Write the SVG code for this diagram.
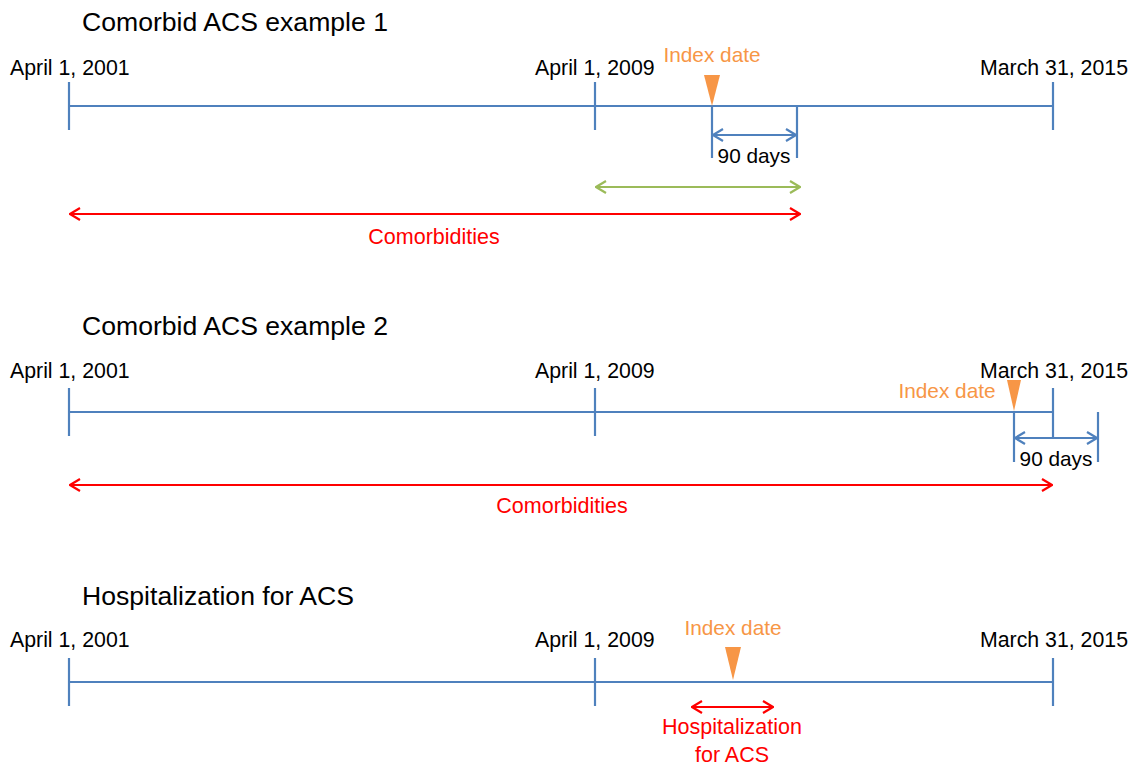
<svg xmlns="http://www.w3.org/2000/svg" width="1139" height="767" viewBox="0 0 1139 767">
<style>
text{font-family:"Liberation Sans",Arial,sans-serif;}
.title{font-size:26.6px;fill:#000;}
.lbl{font-size:21.3px;fill:#000;}
.lblr{font-size:21.3px;fill:#000;text-anchor:end;}
.idx{font-size:20.8px;fill:#F79646;text-anchor:middle;}
.red{font-size:21.5px;fill:#FF0000;text-anchor:middle;}
.blk{font-size:20.8px;fill:#000;text-anchor:middle;}
.tl{stroke:#4F81BD;stroke-width:2.2;fill:none;}
.ab{stroke:#4F81BD;stroke-width:2.2;fill:none;marker-start:url(#mb);marker-end:url(#mb);}
.ar{stroke:#FF0000;stroke-width:2.2;fill:none;marker-start:url(#mr);marker-end:url(#mr);}
.ag{stroke:#9BBB59;stroke-width:2.2;fill:none;marker-start:url(#mg);marker-end:url(#mg);}
.tri{fill:#F79646;}
</style>
<defs>
<marker id="mb" viewBox="0 0 12 14" refX="11" refY="7" markerWidth="12" markerHeight="14" markerUnits="userSpaceOnUse" orient="auto-start-reverse"><path d="M1,1 L11,7 L1,13" fill="none" stroke="#4F81BD" stroke-width="2.2"/></marker>
<marker id="mr" viewBox="0 0 12 14" refX="11" refY="7" markerWidth="12" markerHeight="14" markerUnits="userSpaceOnUse" orient="auto-start-reverse"><path d="M1,1 L11,7 L1,13" fill="none" stroke="#FF0000" stroke-width="2.2"/></marker>
<marker id="mg" viewBox="0 0 12 14" refX="11" refY="7" markerWidth="12" markerHeight="14" markerUnits="userSpaceOnUse" orient="auto-start-reverse"><path d="M1,1 L11,7 L1,13" fill="none" stroke="#9BBB59" stroke-width="2.2"/></marker>
</defs>

<g id="example1">
<text class="title" x="82" y="31">Comorbid ACS example 1</text>
<text class="lbl" x="10" y="75">April 1, 2001</text>
<text class="lbl" x="535" y="75">April 1, 2009</text>
<text class="lblr" x="1128" y="75">March 31, 2015</text>
<text class="idx" x="712" y="62">Index date</text>
<g id="timeline1">
<line class="tl" x1="69" y1="106" x2="1053" y2="106"/>
<line class="tl" x1="69" y1="82" x2="69" y2="130"/>
<line class="tl" x1="595" y1="82" x2="595" y2="130"/>
<line class="tl" x1="1053" y1="82" x2="1053" y2="130"/>
<line class="tl" x1="712" y1="106" x2="712" y2="158"/>
<line class="tl" x1="797" y1="106" x2="797" y2="158"/>
</g>
<polygon class="tri" points="704,75 720,75 712,106"/>
<text class="blk" x="754" y="163">90 days</text>
<text class="red" x="434" y="244">Comorbidities</text>
</g>

<g id="example2">
<text class="title" x="82" y="335">Comorbid ACS example 2</text>
<text class="lbl" x="10" y="378">April 1, 2001</text>
<text class="lbl" x="535" y="378">April 1, 2009</text>
<text class="lblr" x="1128" y="378">March 31, 2015</text>
<text class="idx" x="947" y="398">Index date</text>
<g id="timeline2">
<line class="tl" x1="69" y1="412" x2="1053" y2="412"/>
<line class="tl" x1="69" y1="388" x2="69" y2="436"/>
<line class="tl" x1="595" y1="388" x2="595" y2="436"/>
<line class="tl" x1="1053" y1="388" x2="1053" y2="438"/>
<line class="tl" x1="1014" y1="412" x2="1014" y2="462"/>
<line class="tl" x1="1098" y1="412" x2="1098" y2="462"/>
</g>
<polygon class="tri" points="1007,380 1021,380 1014,411"/>
<text class="blk" x="1056" y="466">90 days</text>
<text class="red" x="562" y="513">Comorbidities</text>
</g>

<g id="hospitalization">
<text class="title" x="82" y="605">Hospitalization for ACS</text>
<text class="lbl" x="10" y="647">April 1, 2001</text>
<text class="lbl" x="535" y="647">April 1, 2009</text>
<text class="lblr" x="1128" y="647">March 31, 2015</text>
<text class="idx" x="733" y="635">Index date</text>
<g id="timeline3">
<line class="tl" x1="69" y1="682" x2="1053" y2="682"/>
<line class="tl" x1="69" y1="658" x2="69" y2="706"/>
<line class="tl" x1="595" y1="658" x2="595" y2="706"/>
<line class="tl" x1="1053" y1="658" x2="1053" y2="706"/>
</g>
<polygon class="tri" points="725,647 741,647 733,680"/>
<text class="red" x="732" y="734">Hospitalization</text>
<text class="red" x="732" y="762">for ACS</text>
</g>

<g id="connectors">
<line class="ab" x1="713" y1="135" x2="796" y2="135"/>
<line class="ag" x1="596" y1="187" x2="800" y2="187"/>
<line class="ar" x1="70" y1="214" x2="800" y2="214"/>
<line class="ab" x1="1015" y1="438" x2="1097" y2="438"/>
<line class="ar" x1="70" y1="485" x2="1052" y2="485"/>
<line class="ar" x1="692" y1="707" x2="773" y2="707"/>
</g>
</svg>
